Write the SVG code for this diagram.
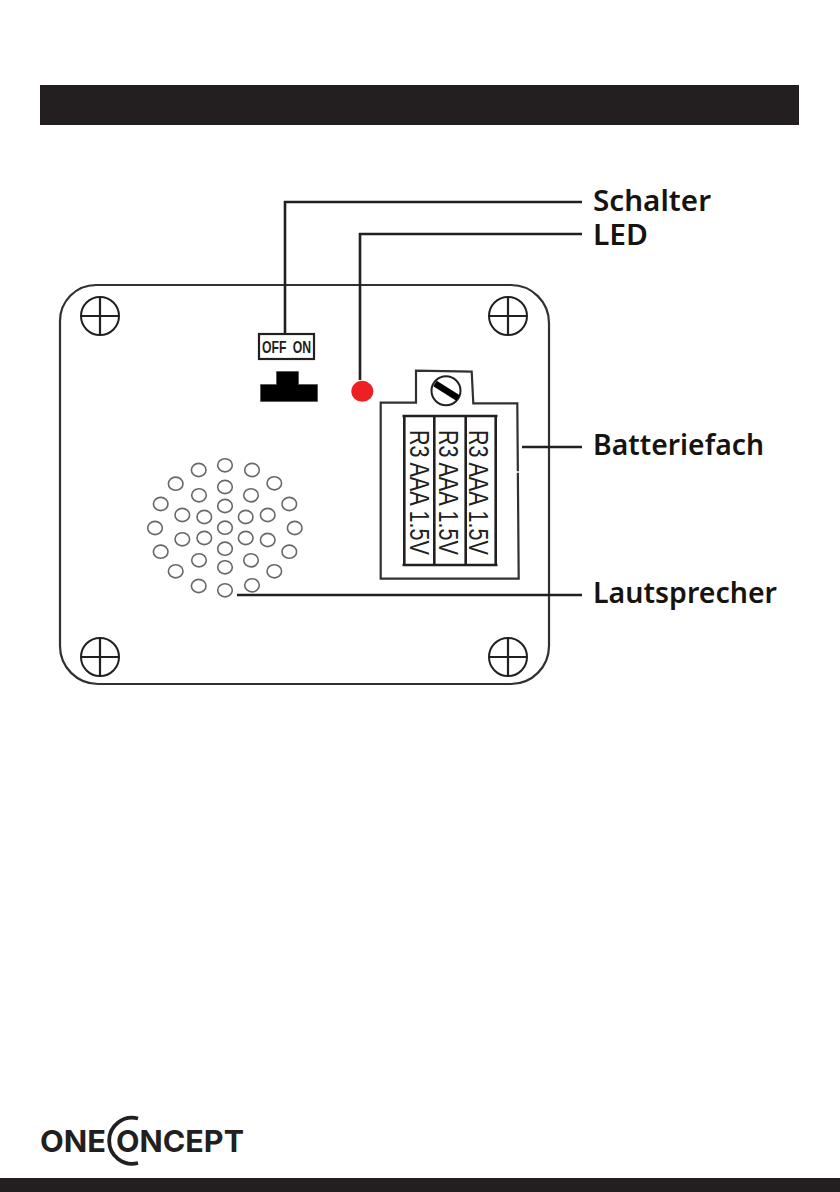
<svg xmlns="http://www.w3.org/2000/svg" width="840" height="1192" viewBox="0 0 840 1192">
<style>
.ln{fill:none;stroke:#231f20;stroke-width:2.6}
.o{fill:none;stroke:#333031;stroke-width:2.2}
.h{fill:#fff;stroke:#6a6768;stroke-width:1.6}
.lb{font-family:"Noto Sans","Open Sans",sans-serif;font-weight:600;font-size:28.5px;fill:#17130f}
.bt{font-family:"Liberation Sans",Arial,sans-serif;font-size:28px;fill:#231f20}
.lg{font-family:"Inter","Liberation Sans",sans-serif;font-weight:700;font-size:30px;fill:#231f20}
</style>
<defs>
<g id="screw"><circle r="19" fill="none" stroke="#231f20" stroke-width="2"/><path d="M-19 0H19M0-19V19" stroke="#231f20" stroke-width="2.2"/></g>
<ellipse id="hole" rx="7.3" ry="6.6" class="h"/>
</defs>
<rect width="840" height="1192" fill="#fff"/>
<rect id="header-bar" x="40" y="85" width="759" height="40" fill="#231f20"/>
<g id="panel">
<path class="o" d="M96 285H511A38 38 0 0 1 549 323V646A38 38 0 0 1 511 684H98A38 38 0 0 1 60 646V321A36 36 0 0 1 96 285Z"/>
<use href="#screw" x="100" y="316"/><use href="#screw" x="508" y="316"/><use href="#screw" x="100" y="657"/><use href="#screw" x="508" y="657"/>
</g>
<g id="switch">
<rect x="259" y="334" width="55" height="25" fill="#fff" stroke="#231f20" stroke-width="2.2"/>
<text x="262" y="353" font-family="'Liberation Sans',sans-serif" font-weight="700" font-size="17" word-spacing="4" textLength="49" lengthAdjust="spacingAndGlyphs" fill="#231f20">OFF ON</text>
<path d="M260.500 384.500H276.500V371.500H298.500V384.500H317.500V401.500H260.500Z" fill="#000" stroke="#444" stroke-width=".6"/>
</g>
<g id="led"><ellipse cx="362.300" cy="391.300" rx="11" ry="10.500" fill="#ee2024"/></g>
<g id="battery">
<path class="o" d="M380.700 402.700H416V370.700L471.700 371.700L473.300 403.300H517.300L518.700 578.700H380.700Z"/>
<path d="M516 472H522" stroke="#fff" stroke-width="1.500"/>
<circle cx="446" cy="390.700" r="14.500" fill="#fff" stroke="#231f20" stroke-width="2"/>
<path d="M435 383.500L458 398" stroke="#000" stroke-width="6.500"/>
<path class="ln" d="M402.500 416H497.500M402.500 565H497.500M404.300 416V565M434.300 416V565M465.700 416V565M495.700 416V565" stroke-width="2.400"/>
<text class="bt" transform="translate(410 430) rotate(90)" textLength="125" lengthAdjust="spacingAndGlyphs">R3 AAA 1.5V</text>
<text class="bt" transform="translate(439.300 430) rotate(90)" textLength="125" lengthAdjust="spacingAndGlyphs">R3 AAA 1.5V</text>
<text class="bt" transform="translate(469.300 430) rotate(90)" textLength="125" lengthAdjust="spacingAndGlyphs">R3 AAA 1.5V</text>
</g>
<g id="speaker">
<use href="#hole" x="225" y="465.300"/><use href="#hole" x="198.700" y="470"/><use href="#hole" x="252" y="470"/><use href="#hole" x="175.700" y="483.700"/><use href="#hole" x="274.300" y="483.300"/><use href="#hole" x="160.700" y="504"/><use href="#hole" x="289.300" y="504"/><use href="#hole" x="225" y="487"/><use href="#hole" x="199" y="495.300"/><use href="#hole" x="251" y="495.300"/><use href="#hole" x="225" y="506"/><use href="#hole" x="182.300" y="515"/><use href="#hole" x="204.300" y="517"/><use href="#hole" x="245.700" y="517"/><use href="#hole" x="267.700" y="515"/><use href="#hole" x="155" y="528"/><use href="#hole" x="294.700" y="528"/><use href="#hole" x="225" y="527.700"/><use href="#hole" x="182.300" y="539.300"/><use href="#hole" x="204.300" y="538"/><use href="#hole" x="245.700" y="538"/><use href="#hole" x="267.700" y="540"/><use href="#hole" x="160.700" y="551.700"/><use href="#hole" x="289.300" y="551.700"/><use href="#hole" x="225" y="548.700"/><use href="#hole" x="199" y="560.300"/><use href="#hole" x="251" y="560.300"/><use href="#hole" x="175.700" y="571.300"/><use href="#hole" x="274.300" y="571.300"/><use href="#hole" x="225" y="567.300"/><use href="#hole" x="198.700" y="586"/><use href="#hole" x="252" y="585.300"/><use href="#hole" x="225" y="590.300"/>
</g>
<g id="connectors">
<path class="ln" d="M285 333V202H582"/>
<path class="ln" d="M360 380V234H582"/>
<path class="ln" d="M522 447H582"/>
<path class="ln" d="M237 595H582"/>
</g>
<g id="labels">
<text class="lb" x="593" y="211" textLength="118" lengthAdjust="spacingAndGlyphs">Schalter</text>
<text class="lb" x="593" y="245" textLength="55" lengthAdjust="spacingAndGlyphs">LED</text>
<text class="lb" x="593" y="455" textLength="171" lengthAdjust="spacingAndGlyphs">Batteriefach</text>
<text class="lb" x="593" y="603" textLength="184" lengthAdjust="spacingAndGlyphs">Lautsprecher</text>
</g>
<g id="logo">
<text class="lg" x="40" y="1152" textLength="66" lengthAdjust="spacingAndGlyphs">ONE</text>
<path d="M138 1118.500A23 23 0 1 0 138 1163" fill="none" stroke="#231f20" stroke-width="3.800"/>
<text class="lg" x="116" y="1152" textLength="128" lengthAdjust="spacingAndGlyphs">ONCEPT</text>
</g>
<rect id="footer-bar" x="0" y="1178" width="840" height="14" fill="#231f20"/>
</svg>
